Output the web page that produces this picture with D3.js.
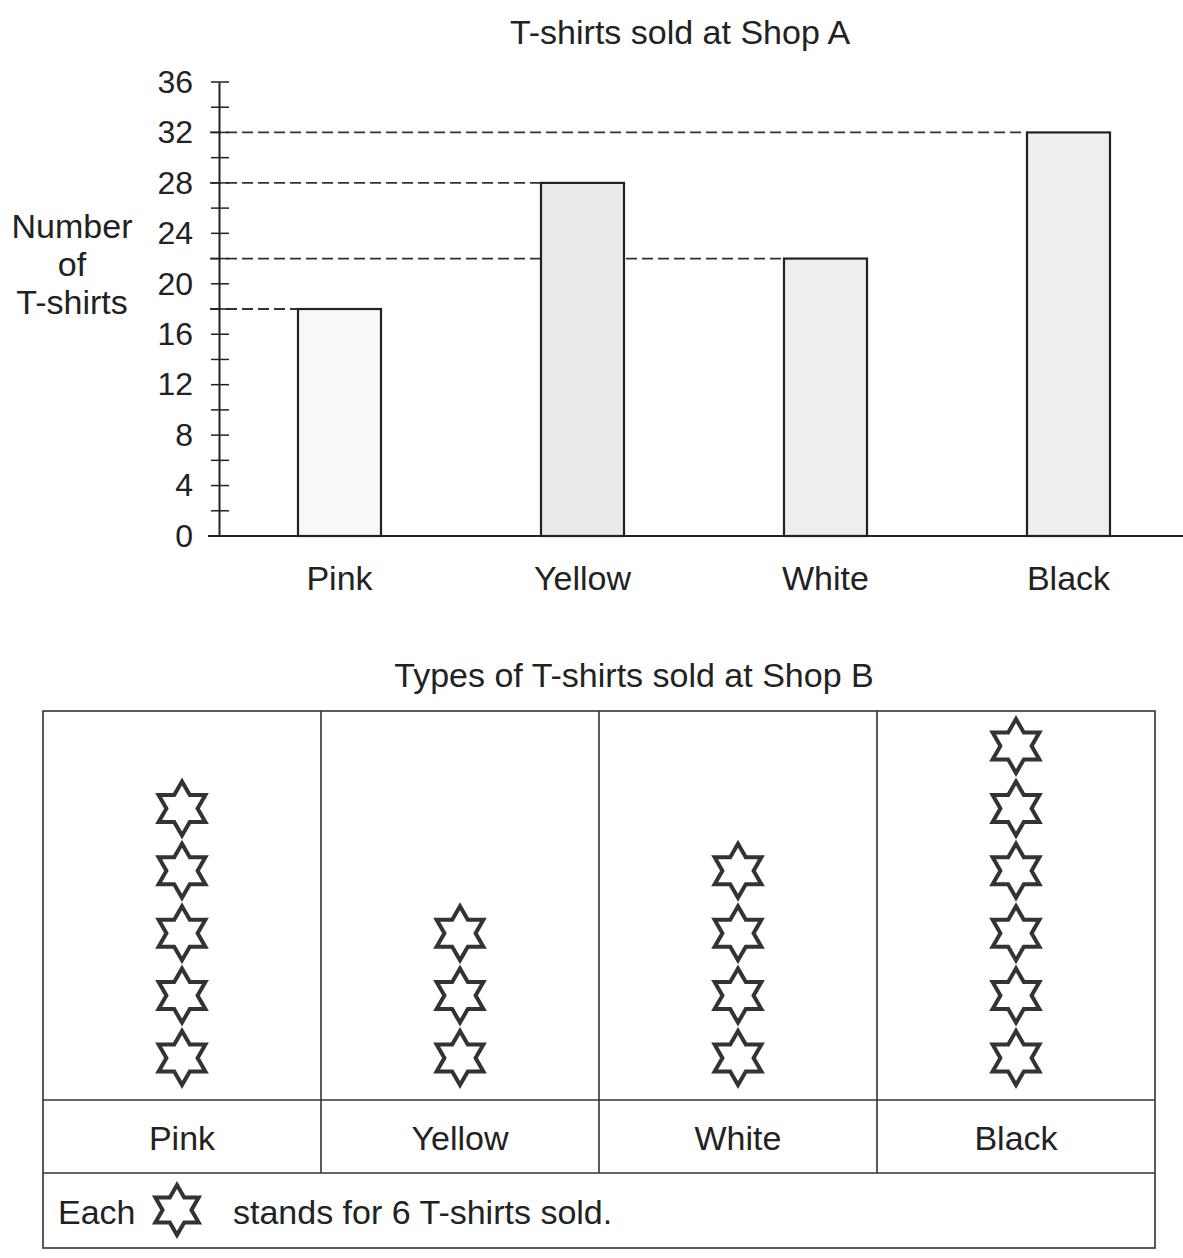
<!DOCTYPE html>
<html>
<head>
<meta charset="utf-8">
<script src="https://cdn.jsdelivr.net/npm/d3@7"></script>
<style>
  body { margin: 0; background: #fff; }
  text { font-family: "Liberation Sans", Arial, sans-serif; fill: #222; }
</style>
</head>
<body>
<div id="chart"></div>
<script>
// data
var colours = ["Pink", "Yellow", "White", "Black"];
var shopA = [18, 28, 22, 32];           // number of T-shirts, bar graph
var shopB = [30, 18, 24, 36];           // number of T-shirts, pictograph
var starValue = 6;                      // each star stands for 6
var yTicks = [0, 4, 8, 12, 16, 20, 24, 28, 32, 36];
var yMinorTicks = [2, 6, 10, 14, 18, 22, 26, 30, 34];
var barFills = ["#f9f9f9", "#ebebeb", "#eeeeee", "#efefef"];

var W = 1183, H = 1258;
var svg = d3.select("#chart").append("svg")
  .attr("width", W)
  .attr("height", H);

var ink = "#222";
var fs = "34px";

// ---------- Shop A bar graph ----------
var y = d3.scaleLinear().domain([0, 36]).range([536, 82]);
var x = d3.scalePoint().domain(colours).range([218, 1190]).padding(0.5);
var barW = 83;
var axisX = 219;

svg.append("text")
  .attr("x", 680)
  .attr("y", 32)
  .attr("dy", "0.35em")
  .attr("text-anchor", "middle")
  .style("font-size", fs)
  .text("T-shirts sold at Shop A");

// y label
svg.append("g").selectAll("text")
  .data(["Number", "of", "T-shirts"])
  .enter().append("text")
  .attr("x", 72)
  .attr("y", function (d, i) { return 226 + i * 38; })
  .attr("dy", "0.35em")
  .attr("text-anchor", "middle")
  .style("font-size", fs)
  .text(function (d) { return d; });

// dashed guide lines (drawn first so the bars cover them)
svg.append("g").selectAll("line")
  .data(shopA)
  .enter().append("line")
  .attr("x1", axisX - 9)
  .attr("x2", function (d, i) { return x(colours[i]) - barW / 2; })
  .attr("y1", function (d) { return y(d); })
  .attr("y2", function (d) { return y(d); })
  .style("stroke", "#333")
  .style("stroke-width", 1.8)
  .style("stroke-dasharray", "11,5");

// bars
svg.append("g").selectAll("rect")
  .data(shopA)
  .enter().append("rect")
  .attr("x", function (d, i) { return x(colours[i]) - barW / 2; })
  .attr("y", function (d) { return y(d); })
  .attr("width", barW)
  .attr("height", function (d) { return y(0) - y(d); })
  .style("fill", function (d, i) { return barFills[i]; })
  .style("stroke", ink)
  .style("stroke-width", 2.2);

// x baseline
svg.append("line")
  .attr("x1", 208).attr("x2", W)
  .attr("y1", y(0)).attr("y2", y(0))
  .style("stroke", ink)
  .style("stroke-width", 2);

// y axis
var yAxis = d3.axisLeft(y)
  .tickValues(yTicks)
  .tickSize(0)
  .tickPadding(26);
var gy = svg.append("g")
  .attr("transform", "translate(" + axisX + ",0)")
  .call(yAxis);
gy.select(".domain").style("stroke", ink).style("stroke-width", 2);
gy.selectAll("text")
  .style("font-size", "32px")
  .style("font-family", "\"Liberation Sans\", Arial, sans-serif")
  .style("fill", ink);

// tick crosses on the axis
svg.append("g").selectAll("line")
  .data(yTicks.concat(yMinorTicks))
  .enter().append("line")
  .attr("x1", axisX - 8)
  .attr("x2", axisX + 10)
  .attr("y1", function (d) { return y(d); })
  .attr("y2", function (d) { return y(d); })
  .style("stroke", ink)
  .style("stroke-width", 1.5);

// category labels
svg.append("g").selectAll("text")
  .data(colours)
  .enter().append("text")
  .attr("x", function (d) { return x(d); })
  .attr("y", 578)
  .attr("dy", "0.35em")
  .attr("text-anchor", "middle")
  .style("font-size", fs)
  .text(function (d) { return d; });

// ---------- Shop B pictograph ----------
var tLeft = 43, tRight = 1155, tTop = 711;
var picBottom = 1100, labelBottom = 1173, tBottom = 1248;
var col = d3.scaleBand().domain(colours).range([tLeft, tRight]);
var starY = d3.scaleLinear().domain([0, 5]).range([1058, 746]);
var R = 27;

function starPath(r) {
  var pts = d3.range(12).map(function (k) {
    var a = -Math.PI / 2 + k * Math.PI / 6;
    var rr = k % 2 === 0 ? r : r / Math.sqrt(3);
    return [rr * Math.cos(a), rr * Math.sin(a)];
  });
  return d3.line()(pts) + "Z";
}

svg.append("text")
  .attr("x", 634)
  .attr("y", 675)
  .attr("dy", "0.35em")
  .attr("text-anchor", "middle")
  .style("font-size", fs)
  .text("Types of T-shirts sold at Shop B");

var table = svg.append("g")
  .style("stroke", "#333")
  .style("stroke-width", 1.6)
  .style("fill", "none");

table.append("rect")
  .attr("x", tLeft).attr("y", tTop)
  .attr("width", tRight - tLeft)
  .attr("height", tBottom - tTop);

table.selectAll(".hline")
  .data([picBottom, labelBottom])
  .enter().append("line")
  .attr("class", "hline")
  .attr("x1", tLeft).attr("x2", tRight)
  .attr("y1", function (d) { return d; })
  .attr("y2", function (d) { return d; });

table.selectAll(".vline")
  .data(colours.slice(1))
  .enter().append("line")
  .attr("class", "vline")
  .attr("x1", function (d) { return col(d); })
  .attr("x2", function (d) { return col(d); })
  .attr("y1", tTop)
  .attr("y2", labelBottom);

// stars
var columns = svg.append("g").selectAll("g")
  .data(shopB)
  .enter().append("g")
  .attr("transform", function (d, i) {
    return "translate(" + (col(colours[i]) + col.bandwidth() / 2) + ",0)";
  });

columns.selectAll("path")
  .data(function (d) { return d3.range(d / starValue); })
  .enter().append("path")
  .attr("transform", function (d) { return "translate(0," + starY(d) + ")"; })
  .attr("d", starPath(R))
  .style("fill", "#fff")
  .style("stroke", "#333")
  .style("stroke-width", 4)
  .style("stroke-linejoin", "miter");

// column labels
svg.append("g").selectAll("text")
  .data(colours)
  .enter().append("text")
  .attr("x", function (d) { return col(d) + col.bandwidth() / 2; })
  .attr("y", 1138)
  .attr("dy", "0.35em")
  .attr("text-anchor", "middle")
  .style("font-size", fs)
  .text(function (d) { return d; });

// key
svg.append("text")
  .attr("x", 58)
  .attr("y", 1212)
  .attr("dy", "0.35em")
  .style("font-size", fs)
  .text("Each");

svg.append("path")
  .attr("transform", "translate(177,1210)")
  .attr("d", starPath(25))
  .style("fill", "#fff")
  .style("stroke", "#333")
  .style("stroke-width", 4);

svg.append("text")
  .attr("x", 233)
  .attr("y", 1212)
  .attr("dy", "0.35em")
  .style("font-size", fs)
  .text("stands for " + starValue + " T-shirts sold.");
</script>
</body>
</html>
